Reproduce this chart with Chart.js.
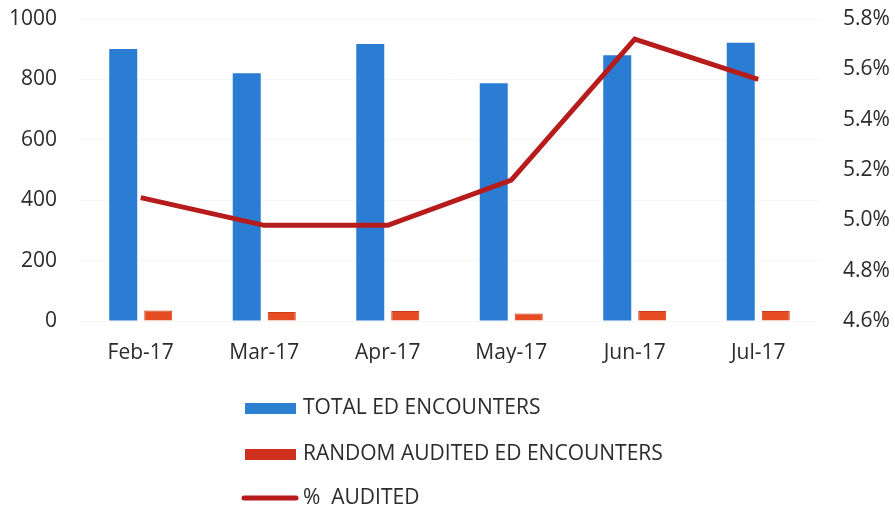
<!DOCTYPE html>
<html>
<head>
<meta charset="utf-8">
<script src="https://cdn.jsdelivr.net/npm/chart.js@4.4.1/dist/chart.umd.min.js"></script>
<style>
  html, body { margin: 0; padding: 0; background: #fff; }
  #wrap { width: 895px; height: 513px; position: relative; }
</style>
</head>
<body>
<div id="wrap"><canvas id="chart" width="895" height="513"></canvas></div>
<script>
const months = ["Feb-17", "Mar-17", "Apr-17", "May-17", "Jun-17", "Jul-17"];
const totalEncounters = [901, 820, 917, 787, 880, 921];
const auditedEncounters = [35, 30, 33, 25, 33, 33];
const pctAudited = [5.09, 4.98, 4.98, 5.16, 5.72, 5.56];

const FONT = "'Open Sans', 'DejaVu Sans', sans-serif";
const TEXT = "#2b2b2b";

// vertical legend under the plot
const stackedLegend = {
  id: "stackedLegend",
  afterDraw(chart) {
    const ctx = chart.ctx;
    const rows = [407, 453, 497];
    ctx.save();
    chart.data.datasets.forEach((ds, i) => {
      const y = rows[i];
      if (ds.type === "line") {
        ctx.strokeStyle = ds.borderColor;
        ctx.lineWidth = 5;
        ctx.lineCap = "round";
        ctx.beginPath();
        ctx.moveTo(244, y + 1);
        ctx.lineTo(296, y + 1);
        ctx.stroke();
      } else {
        ctx.fillStyle = ds.legendColor;
        ctx.fillRect(245, y - 4, 51, 11);
      }
      ctx.fillStyle = TEXT;
      ctx.font = "21px " + FONT;
      ctx.textBaseline = "middle";
      ctx.textAlign = "left";
      ctx.fillText(ds.label, 303, y + 1);
    });
    ctx.restore();
  }
};

// keep the value axes from reserving extra room above the plot
function fixedSide(width) {
  return axis => {
    axis.width = width;
    axis.paddingTop = 0;
    axis.paddingBottom = 0;
  };
}

new Chart(document.getElementById("chart"), {
  type: "bar",
  data: {
    labels: months,
    datasets: [
      {
        label: "TOTAL ED ENCOUNTERS",
        data: totalEncounters,
        yAxisID: "y",
        backgroundColor: "#2b7dd3",
        legendColor: "#2b80d0",
        categoryPercentage: 0.567,
        barPercentage: 0.8,
        order: 1
      },
      {
        label: "RANDOM AUDITED ED ENCOUNTERS",
        data: auditedEncounters,
        yAxisID: "y",
        backgroundColor: "#e64c22",
        borderColor: "#cc3c1a",
        borderWidth: 1,
        legendColor: "#d0311f",
        categoryPercentage: 0.567,
        barPercentage: 0.8,
        order: 1
      },
      {
        type: "line",
        label: "%  AUDITED",
        data: pctAudited,
        yAxisID: "yPct",
        borderColor: "#b71c1c",
        borderWidth: 5,
        pointRadius: 0,
        tension: 0,
        order: 0
      }
    ]
  },
  options: {
    responsive: false,
    animation: false,
    layout: { padding: { top: 19, bottom: 150 } },
    plugins: {
      legend: { display: false },
      tooltip: { enabled: false }
    },
    scales: {
      x: {
        grid: { display: false, drawTicks: false },
        border: { display: false },
        ticks: { color: TEXT, font: { family: FONT, size: 21 }, padding: 19 },
        afterFit(axis) { axis.height = 42; }
      },
      y: {
        position: "left",
        min: 0,
        max: 1000,
        ticks: {
          stepSize: 200,
          color: TEXT,
          font: { family: FONT, size: 21 },
          padding: 22,
          callback: v => String(v)
        },
        grid: { color: "#f6f6f6", drawTicks: false },
        border: { display: false },
        afterFit: fixedSide(79)
      },
      yPct: {
        position: "right",
        min: 4.6,
        max: 5.8,
        ticks: {
          stepSize: 0.2,
          color: TEXT,
          font: { family: FONT, size: 21 },
          padding: 23,
          callback: v => v.toFixed(1) + "%"
        },
        grid: { display: false, drawTicks: false },
        border: { display: false },
        afterFit: fixedSide(75)
      }
    }
  },
  plugins: [stackedLegend]
});
</script>
</body>
</html>
